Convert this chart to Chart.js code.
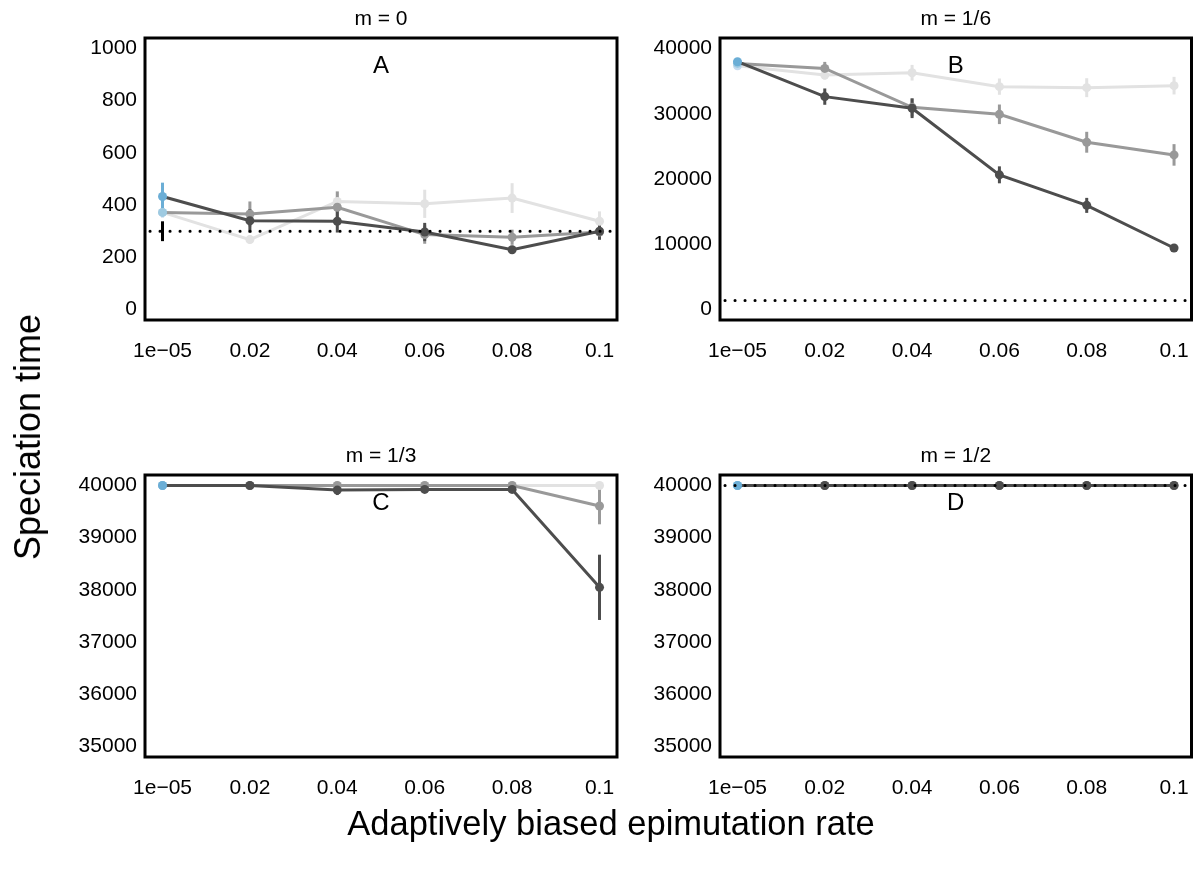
<!DOCTYPE html>
<html>
<head>
<meta charset="utf-8">
<script src="https://cdn.jsdelivr.net/npm/chart.js@4/dist/chart.umd.min.js"></script>
<style>
  body { margin: 0; background: #fff; width: 1196px; height: 869px; position: relative; overflow: hidden;
         font-family: "Liberation Sans", Arial, sans-serif; color: #000; }
  .panel { position: absolute; }
  #ytitle { position: absolute; left: 28px; top: 437px; transform: translate(-50%, -50%) rotate(-90deg);
            font-size: 36px; white-space: nowrap; }
  #xtitle { position: absolute; left: 611px; top: 823px; transform: translate(-50%, -50%);
            font-size: 34.5px; white-space: nowrap; }
</style>
</head>
<body>
<div class="panel" style="left:0;top:0"><canvas id="chartA" width="630" height="370"></canvas></div>
<div class="panel" style="left:575px;top:0"><canvas id="chartB" width="621" height="370"></canvas></div>
<div class="panel" style="left:0;top:437px"><canvas id="chartC" width="630" height="370"></canvas></div>
<div class="panel" style="left:575px;top:437px"><canvas id="chartD" width="621" height="370"></canvas></div>
<div id="ytitle">Speciation time</div>
<div id="xtitle">Adaptively biased epimutation rate</div>

<script>
// оси
const xValues = [0.00001, 0.02, 0.04, 0.06, 0.08, 0.1];
const xLabels = ['1e\u221205', '0.02', '0.04', '0.06', '0.08', '0.1'];

const panelTitles = ['m = 0', 'm = 1/6', 'm = 1/3', 'm = 1/2'];
const panelLetters = ['A', 'B', 'C', 'D'];

const yTicksA = [0, 200, 400, 600, 800, 1000];
const yTicksB = [0, 10000, 20000, 30000, 40000];
const yTicksCD = [35000, 36000, 37000, 38000, 39000, 40000];

// m = 0
const lightA = [372, 268, 414, 405, 427, 338];
const lightAErr = [20, 15, 40, 54, 57, 38];
const mediumA = [372, 366, 392, 287, 277, 297];
const mediumAErr = [15, 48, 60, 35, 29, 30];
const darkA = [433, 340, 338, 297, 229, 300];
const darkAErr = [53, 45, 43, 35, 15, 32];

// m = 1/6
const lightB = [37350, 35920, 36280, 34150, 33990, 34300];
const lightBErr = [400, 700, 1200, 1250, 1450, 1350];
const mediumB = [37710, 36940, 30980, 29910, 25630, 23690];
const mediumBErr = [400, 1000, 1400, 1500, 1600, 1650];
const darkB = [37970, 32620, 30830, 20640, 15960, 9430];
const darkBErr = [400, 1250, 1500, 1300, 1150, 400];

// m = 1/3
const lightC = [40000, 40000, 40000, 40000, 40000, 40000];
const lightCErr = [0, 0, 0, 0, 0, 0];
const mediumC = [40000, 40000, 40000, 40000, 40000, 39606];
const mediumCErr = [0, 0, 0, 0, 0, 350];
const darkC = [40000, 40000, 39911, 39924, 39924, 38049];
const darkCErr = [0, 0, 95, 60, 60, 625];

// m = 1/2
const lightD = [40000, 40000, 40000, 40000, 40000, 40000];
const mediumD = [40000, 40000, 40000, 40000, 40000, 40000];
const darkD = [40000, 40000, 40000, 40000, 40000, 40000];
const zeroErr = [0, 0, 0, 0, 0, 0];

// пунктирная линия (нейтральное ожидание)
const refValues = [300, 1400, null, 40000];
const refErr = [38, 0, 0, 0];

const colors = { light: '#e2e2e2', medium: '#999999', dark: '#4d4d4d' };
const firstColors = { light: '#c6dbef', medium: '#9ecae1', dark: '#6baed6' };

Chart.defaults.font.family = '"Liberation Sans", Arial, sans-serif';
Chart.defaults.font.size = 21;
Chart.defaults.color = '#000';

function series(values, errs, key) {
    const pc = values.map((v, i) => i === 0 ? firstColors[key] : colors[key]);
    return {
        data: values.map((v, i) => ({ x: xValues[i], y: v })),
        errs: errs,
        errColors: pc,
        showLine: true,
        borderColor: colors[key],
        borderWidth: 3,
        pointRadius: 4.5,
        pointBackgroundColor: pc,
        pointBorderColor: pc,
        pointBorderWidth: 0
    };
}

const panelPlugin = {
    id: 'panelPlugin',
    beforeDatasetsDraw(chart) {
        const ctx = chart.ctx, xs = chart.scales.x, ys = chart.scales.y;
        ctx.save();
        ctx.lineWidth = 3;
        // светлые усы снизу, тёмные сверху
        chart.data.datasets.slice().reverse().forEach(ds => {
            ds.data.forEach((p, i) => {
                const e = ds.errs[i];
                if (!e) return;
                const x = xs.getPixelForValue(p.x);
                ctx.strokeStyle = ds.errColors[i];
                ctx.beginPath();
                ctx.moveTo(x, ys.getPixelForValue(p.y - e));
                ctx.lineTo(x, ys.getPixelForValue(p.y + e));
                ctx.stroke();
            });
        });
        ctx.restore();
    },
    afterDatasetsDraw(chart, args, opts) {
        const ctx = chart.ctx, a = chart.chartArea, xs = chart.scales.x, ys = chart.scales.y;
        ctx.save();
        if (opts.ref !== null) {
            const y = ys.getPixelForValue(opts.ref);
            ctx.strokeStyle = '#000';
            ctx.lineWidth = 3;
            ctx.lineCap = 'round';
            ctx.setLineDash([0.1, 9.9]);
            ctx.beginPath();
            ctx.moveTo(a.left + 5, y);
            ctx.lineTo(a.right, y);
            ctx.stroke();
            ctx.setLineDash([]);
            ctx.lineCap = 'butt';
            if (opts.refErr) {
                const x = xs.getPixelForValue(xValues[0]);
                ctx.beginPath();
                ctx.moveTo(x, ys.getPixelForValue(opts.ref - opts.refErr));
                ctx.lineTo(x, ys.getPixelForValue(opts.ref + opts.refErr));
                ctx.stroke();
            }
        }
        ctx.restore();
    },
    afterDraw(chart, args, opts) {
        const ctx = chart.ctx, a = chart.chartArea;
        ctx.save();
        ctx.strokeStyle = '#000';
        ctx.lineWidth = 3;
        ctx.strokeRect(a.left, a.top, a.right - a.left, a.bottom - a.top);
        ctx.fillStyle = '#000';
        ctx.font = '21px "Liberation Sans", Arial, sans-serif';
        ctx.textAlign = 'center';
        ctx.textBaseline = 'middle';
        ctx.fillText(opts.title, (a.left + a.right) / 2, a.top - 19);
        ctx.font = '24px "Liberation Sans", Arial, sans-serif';
        ctx.fillText(opts.letter, (a.left + a.right) / 2, a.top + 28.5);
        ctx.restore();
    }
};

function makePanel(id, idx, sets, yTicks, yMin, yMax, padRight) {
    new Chart(document.getElementById(id), {
        type: 'scatter',
        data: { datasets: sets },
        options: {
            responsive: false,
            animation: false,
            devicePixelRatio: 1,
            layout: { padding: { top: 38, right: padRight, bottom: 0, left: 0 } },
            plugins: {
                legend: { display: false },
                tooltip: { enabled: false },
                panelPlugin: { title: panelTitles[idx], letter: panelLetters[idx], ref: refValues[idx], refErr: refErr[idx] }
            },
            scales: {
                x: {
                    type: 'linear',
                    min: -0.004,
                    max: 0.104,
                    grid: { display: false, drawTicks: false },
                    border: { display: false },
                    afterBuildTicks: s => { s.ticks = xValues.map(v => ({ value: v })); },
                    afterFit: s => { s.height = 50; s.paddingLeft = 0; s.paddingRight = 0; },
                    ticks: { padding: 19, maxRotation: 0, autoSkip: false, callback: (v, i) => xLabels[i] }
                },
                y: {
                    type: 'linear',
                    min: yMin,
                    max: yMax,
                    grid: { display: false, drawTicks: false },
                    border: { display: false },
                    afterBuildTicks: s => { s.ticks = yTicks.map(v => ({ value: v })); },
                    afterFit: s => { s.width = 145; s.paddingTop = 0; s.paddingBottom = 0; },
                    ticks: { padding: 8, autoSkip: false, callback: v => String(v) }
                }
            }
        },
        plugins: [panelPlugin]
    });
}

// тёмная серия первой — Chart.js рисует её поверх остальных
makePanel('chartA', 0, [
    series(darkA, darkAErr, 'dark'),
    series(mediumA, mediumAErr, 'medium'),
    series(lightA, lightAErr, 'light')
], yTicksA, -40, 1040, 13);

makePanel('chartB', 1, [
    series(darkB, darkBErr, 'dark'),
    series(mediumB, mediumBErr, 'medium'),
    series(lightB, lightBErr, 'light')
], yTicksB, -1600, 41600, 4);

makePanel('chartC', 2, [
    series(darkC, darkCErr, 'dark'),
    series(mediumC, mediumCErr, 'medium'),
    series(lightC, lightCErr, 'light')
], yTicksCD, 34800, 40200, 13);

makePanel('chartD', 3, [
    series(darkD, zeroErr, 'dark'),
    series(mediumD, zeroErr, 'medium'),
    series(lightD, zeroErr, 'light')
], yTicksCD, 34800, 40200, 4);
</script>
</body>
</html>
